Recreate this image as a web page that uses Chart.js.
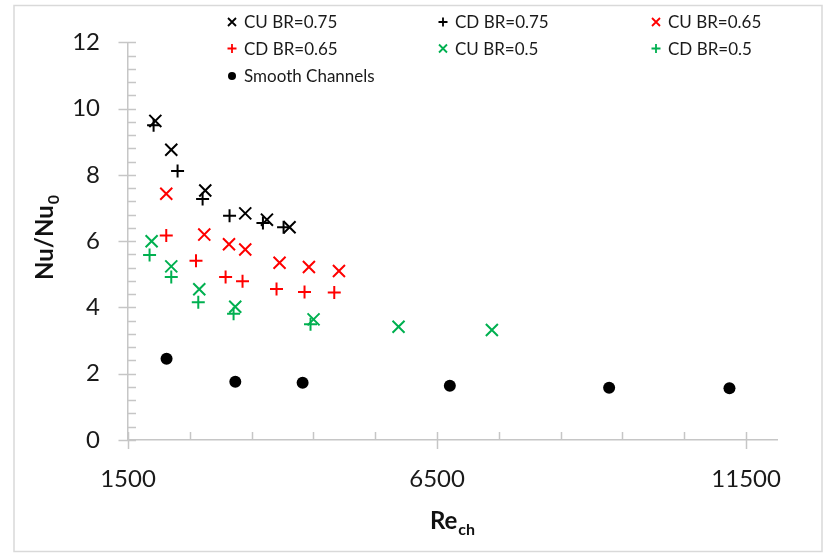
<!DOCTYPE html>
<html>
<head>
<meta charset="utf-8">
<style>
  body { margin: 0; background: #fff; }
  #wrap { width: 829px; height: 554px; }
</style>
</head>
<body>
<div id="wrap"><canvas id="nuChart" width="829" height="554"></canvas></div>
<script src="https://cdn.jsdelivr.net/npm/chart.js"></script>
<script>
// Nu/Nu0 against Re_ch
const cuBr075Re = [1942, 2200, 2750, 3397, 3748, 4114];
const cuBr075Nu = [9.63, 8.76, 7.53, 6.84, 6.65, 6.42];

const cdBr075Re = [1914, 2302, 2707, 3143, 3683, 4017];
const cdBr075Nu = [9.50, 8.12, 7.27, 6.77, 6.55, 6.42];

const cuBr065Re = [2119, 2734, 3134, 3397, 3952, 4427, 4913];
const cuBr065Nu = [7.43, 6.20, 5.91, 5.75, 5.35, 5.22, 5.10];

const cdBr065Re = [2119, 2600, 3079, 3353, 3903, 4356, 4837];
const cdBr065Nu = [6.17, 5.41, 4.92, 4.79, 4.56, 4.47, 4.45];

const cuBr05Re = [1882, 2200, 2653, 3235, 4502, 5877, 7387];
const cuBr05Nu = [6.00, 5.24, 4.55, 4.02, 3.64, 3.42, 3.32];

const cdBr05Re = [1849, 2200, 2637, 3208, 4453];
const cdBr05Nu = [5.58, 4.92, 4.16, 3.81, 3.49];

const smoothRe = [2124, 3236, 4325, 6707, 9284, 11231];
const smoothNu = [2.45, 1.76, 1.73, 1.64, 1.58, 1.56];

// axis ticks
const xTickLabels = [1500, 6500, 11500];
const yTickLabels = [0, 2, 4, 6, 8, 10, 12];
const xMinorStep = 1000;
const yMinorStep = 0.4;

const FONT = "Lato, 'Open Sans', sans-serif";
const AXIS_GREY = '#c6c6c6';
const GREEN = '#00b050';

function pts(xs, ys) {
  return xs.map((x, i) => ({ x: x, y: ys[i] }));
}

function mark(label, xs, ys, style, color) {
  const isX = style === 'crossRot';
  const isPlus = style === 'cross';
  return {
    label: label,
    data: pts(xs, ys),
    pointStyle: style,
    pointRadius: isX ? 8.5 : (isPlus ? 6.5 : 6),
    pointHoverRadius: isX ? 8.5 : (isPlus ? 6.5 : 6),
    pointBorderWidth: isX || isPlus ? 2 : 0,
    borderColor: color,
    backgroundColor: color
  };
}

// own marker painter for the legend
function drawMarker(ctx, style, color, x, y, r) {
  ctx.save();
  ctx.strokeStyle = color;
  ctx.fillStyle = color;
  ctx.lineWidth = 1.8;
  ctx.beginPath();
  if (style === 'crossRot') {
    ctx.moveTo(x - r, y - r); ctx.lineTo(x + r, y + r);
    ctx.moveTo(x - r, y + r); ctx.lineTo(x + r, y - r);
    ctx.stroke();
  } else if (style === 'cross') {
    ctx.moveTo(x - r, y); ctx.lineTo(x + r, y);
    ctx.moveTo(x, y - r); ctx.lineTo(x, y + r);
    ctx.stroke();
  } else {
    ctx.arc(x, y, r, 0, Math.PI * 2);
    ctx.fill();
  }
  ctx.restore();
}

const extras = {
  id: 'extras',
  afterDraw(chart) {
    const ctx = chart.ctx;
    const xs = chart.scales.x;
    const ys = chart.scales.y;
    const area = chart.chartArea;

    ctx.save();
    // outer frame
    ctx.strokeStyle = '#d9d9d9';
    ctx.lineWidth = 1.5;
    ctx.strokeRect(14, 5.5, 808, 546);

    // tick marks
    ctx.strokeStyle = AXIS_GREY;
    ctx.lineWidth = 1.5;
    ctx.beginPath();
    for (let v = xs.min; v <= xs.max + 1e-6; v += xMinorStep) {
      const px = Math.round(xs.getPixelForValue(v)) + 0.5;
      const major = xTickLabels.includes(v);
      ctx.moveTo(px, area.bottom - 8);
      ctx.lineTo(px, area.bottom + (major ? 9 : 0));
    }
    for (let k = 0; k * yMinorStep <= ys.max + 1e-6; k++) {
      const v = Math.round(k * yMinorStep * 10) / 10;
      const py = Math.round(ys.getPixelForValue(v)) + 0.5;
      const major = yTickLabels.includes(v);
      ctx.moveTo(area.left - (major ? 9.5 : 0), py);
      ctx.lineTo(area.left + 8, py);
    }
    ctx.stroke();

    // legend, three columns
    const colX = [232, 443, 656];
    const rowY = [22, 48.5, 76];
    ctx.font = '17px ' + FONT;
    ctx.textBaseline = 'middle';
    ctx.textAlign = 'left';
    chart.data.datasets.forEach((ds, i) => {
      const cx = colX[i % 3];
      const cy = rowY[Math.floor(i / 3)];
      const r = ds.pointStyle === 'circle' ? 4 : (ds.pointStyle === 'cross' ? 4.5 : 4);
      drawMarker(ctx, ds.pointStyle, ds.borderColor, cx, cy, r);
      ctx.fillStyle = '#1a1a1a';
      ctx.fillText(ds.label, cx + 12, cy + 1);
    });

    // axis titles with subscripts
    ctx.fillStyle = '#111';
    ctx.textBaseline = 'alphabetic';
    ctx.font = 'bold 24px ' + FONT;
    const reW = ctx.measureText('Re').width;
    ctx.font = 'bold 16px ' + FONT;
    const chW = ctx.measureText('ch').width;
    let tx = 452 - (reW + chW) / 2;
    ctx.font = 'bold 24px ' + FONT;
    ctx.fillText('Re', tx, 529);
    ctx.font = 'bold 16px ' + FONT;
    ctx.fillText('ch', tx + reW + 1, 535);

    ctx.translate(53, 238);
    ctx.rotate(-Math.PI / 2);
    ctx.font = 'bold 24px ' + FONT;
    const nuW = ctx.measureText('Nu/Nu').width;
    ctx.font = 'bold 16px ' + FONT;
    const zW = ctx.measureText('0').width;
    tx = -(nuW + zW) / 2;
    ctx.font = 'bold 24px ' + FONT;
    ctx.fillText('Nu/Nu', tx, 0);
    ctx.font = 'bold 16px ' + FONT;
    ctx.fillText('0', tx + nuW + 1, 6);
    ctx.restore();
  }
};

new Chart(document.getElementById('nuChart'), {
  type: 'scatter',
  data: {
    datasets: [
      mark('CU BR=0.75', cuBr075Re, cuBr075Nu, 'crossRot', '#000000'),
      mark('CD BR=0.75', cdBr075Re, cdBr075Nu, 'cross', '#000000'),
      mark('CU BR=0.65', cuBr065Re, cuBr065Nu, 'crossRot', '#ff0000'),
      mark('CD BR=0.65', cdBr065Re, cdBr065Nu, 'cross', '#ff0000'),
      mark('CU BR=0.5', cuBr05Re, cuBr05Nu, 'crossRot', GREEN),
      mark('CD BR=0.5', cdBr05Re, cdBr05Nu, 'cross', GREEN),
      mark('Smooth Channels', smoothRe, smoothNu, 'circle', '#000000')
    ]
  },
  options: {
    responsive: false,
    animation: false,
    layout: { padding: { top: 34, right: 52, bottom: 0, left: 0 } },
    plugins: {
      legend: { display: false },
      tooltip: { enabled: false }
    },
    scales: {
      x: {
        type: 'linear',
        min: 1500,
        max: 12000,
        afterBuildTicks: s => { s.ticks = xTickLabels.map(v => ({ value: v })); },
        afterFit: s => { s.height = 114; },
        grid: { display: false, drawTicks: false },
        border: { display: true, color: AXIS_GREY, width: 1.5 },
        ticks: {
          padding: 25,
          color: '#1a1a1a',
          font: { family: FONT, size: 24 },
          maxRotation: 0,
          autoSkip: false,
          callback: v => String(v)
        }
      },
      y: {
        min: 0,
        max: 12,
        afterBuildTicks: s => { s.ticks = yTickLabels.map(v => ({ value: v })); },
        afterFit: s => { s.width = 128; },
        grid: { display: false, drawTicks: false },
        border: { display: true, color: AXIS_GREY, width: 1.5 },
        ticks: {
          padding: 28,
          color: '#1a1a1a',
          font: { family: FONT, size: 24 },
          callback: v => String(v)
        }
      }
    }
  },
  plugins: [extras]
});
</script>
</body>
</html>
